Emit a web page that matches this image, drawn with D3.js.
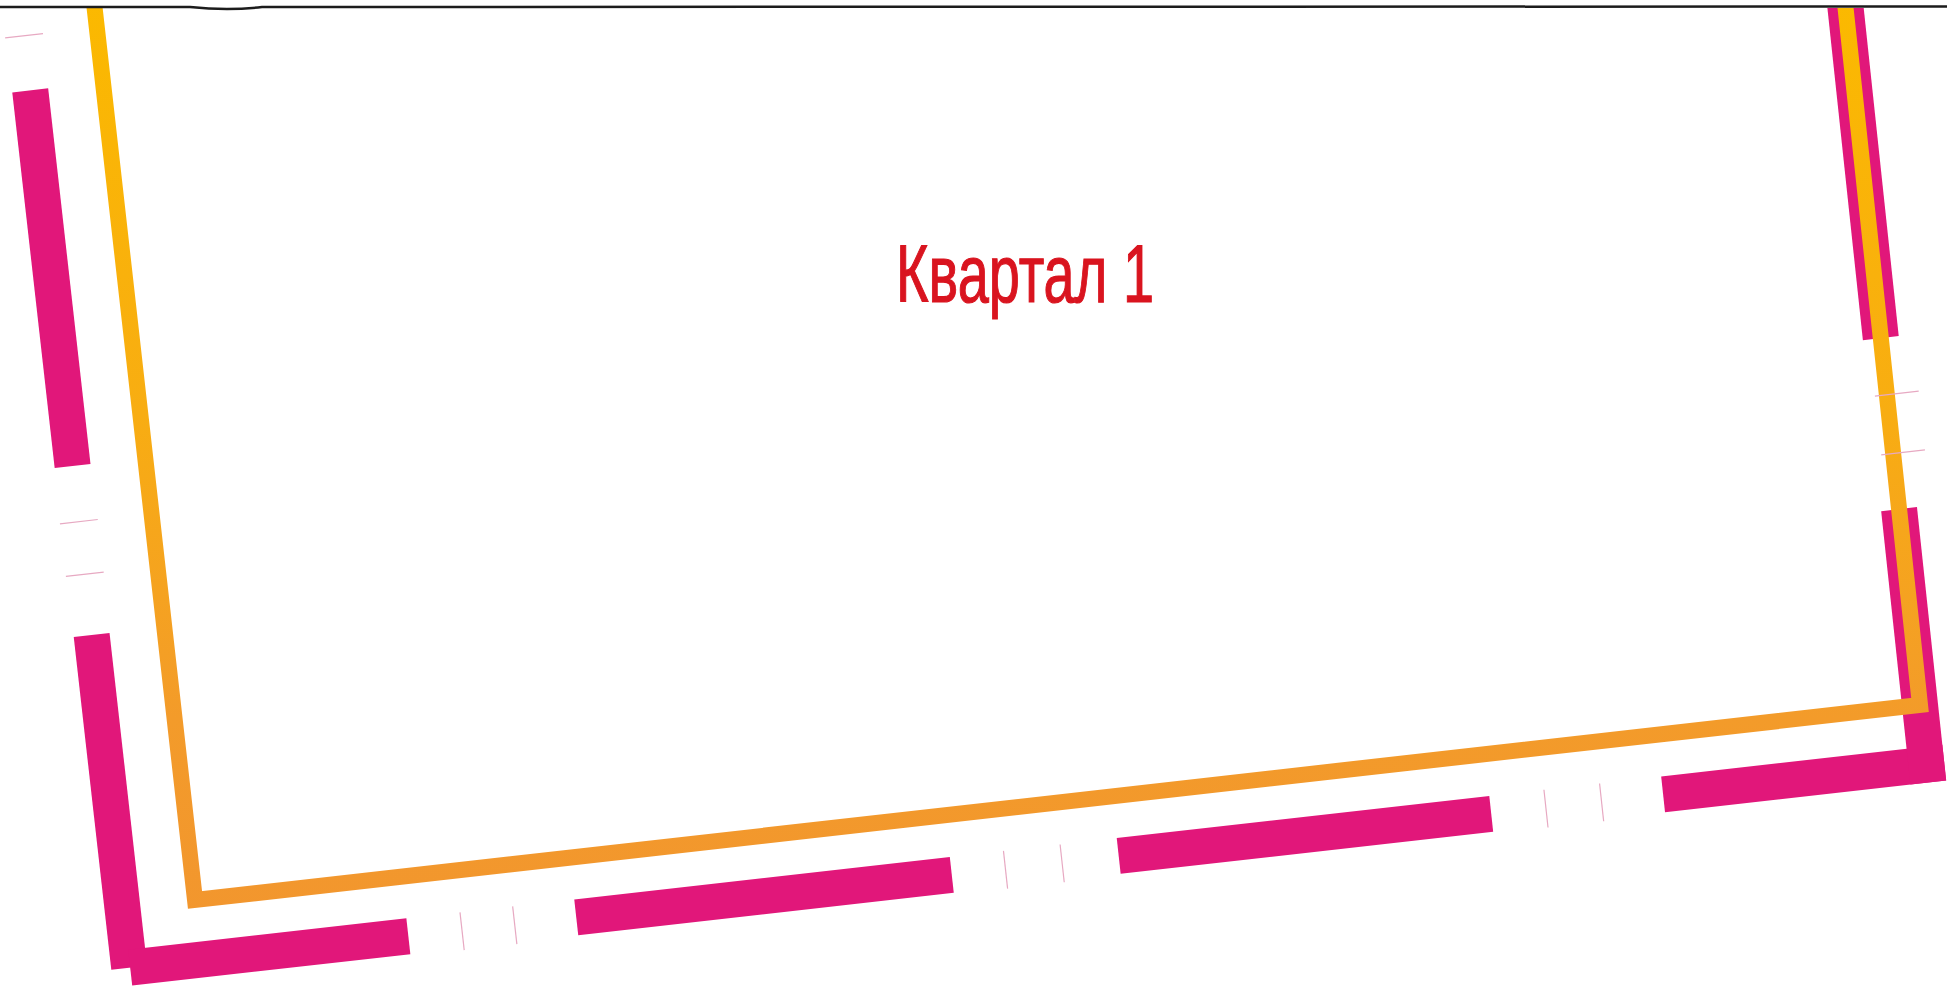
<!DOCTYPE html>
<html>
<head>
<meta charset="utf-8">
<script src="https://cdn.jsdelivr.net/npm/d3@7"></script>
<style>
  html, body { margin: 0; padding: 0; background: #fff; }
  svg { display: block; }
</style>
</head>
<body>
<svg id="slide" width="1947" height="992"></svg>
<script>
// slide title
const titleText = 'Квартал 1';
// pink bars along the left edge (distance up from the bottom line)
const leftBars = [[445, 823], [-60, 275]];
// pink bars along the bottom edge (distance from the left line)
const bottomBars = [[-72, 208], [377, 755], [923, 1298], [1471, 1754]];
// pink bars along the right edge
const rightBars = [[369, 1100], [-78, 197]];
// thin cut marks in the gaps
const leftMarks = [878, 389, 336];
const bottomMarks = [262, 315, 809, 866, 1353, 1409];
const rightMarks = [312, 253];

(function() {
  const svg = d3.select('#slide');
  const W = 1947, H = 992;

  // corners of the slanted orange frame on the page
  const BL = [195, 900], BR = [1920, 705], TL = [93.7, 0], TR = [1823.8, -195.5];
  const sScale = d3.scaleLinear().domain([0, 1736]).range([0, 1]);
  const tScale = d3.scaleLinear().domain([0, 905.7]).range([0, 1]);

  function proj(u, v) {
    const s = sScale(u), t = tScale(v);
    return [
      (1 - s) * (1 - t) * BL[0] + s * (1 - t) * BR[0] + (1 - s) * t * TL[0] + s * t * TR[0],
      (1 - s) * (1 - t) * BL[1] + s * (1 - t) * BR[1] + (1 - s) * t * TL[1] + s * t * TR[1]
    ];
  }
  function quad(u0, u1, v0, v1) {
    return [proj(u0, v0), proj(u1, v0), proj(u1, v1), proj(u0, v1)];
  }
  const poly = d3.line().curve(d3.curveLinearClosed);
  const line = d3.line();

  const defs = svg.append('defs');
  defs.append('clipPath').attr('id', 'page').append('rect')
    .attr('x', 0).attr('y', 8).attr('width', W).attr('height', H - 8);
  const grad = defs.append('linearGradient').attr('id', 'orangeGrad')
    .attr('gradientUnits', 'userSpaceOnUse')
    .attr('x1', 0).attr('y1', 0).attr('x2', 0).attr('y2', 920);
  grad.append('stop').attr('offset', 0).attr('stop-color', '#fbb900');
  grad.append('stop').attr('offset', 0.45).attr('stop-color', '#f8ad12');
  grad.append('stop').attr('offset', 0.78).attr('stop-color', '#f39b2a');
  grad.append('stop').attr('offset', 1).attr('stop-color', '#f2962e');

  const g = svg.append('g').attr('clip-path', 'url(#page)');
  const pink = '#e1177a';

  // pink bars
  const pinkQuads = []
    .concat(leftBars.map(function(d) { return quad(-91, -55, d[0], d[1]); }))
    .concat(bottomBars.map(function(d) { return quad(d[0], d[1], -78, -42); }))
    .concat(rightBars.map(function(d) { return quad(1718, 1754, d[0], d[1]); }));
  g.selectAll('path.pink').data(pinkQuads).enter().append('path')
    .attr('class', 'pink')
    .attr('d', poly)
    .attr('fill', pink);

  // orange frame
  g.append('path')
    .attr('d', line([proj(0, 1100), proj(0, 0), proj(1736, 0), proj(1736, 1100)]))
    .attr('fill', 'none')
    .attr('stroke', 'url(#orangeGrad)')
    .attr('stroke-width', 16)
    .attr('stroke-linejoin', 'miter');

  // faint cut marks
  const marks = []
    .concat(leftMarks.map(function(v) { return [proj(-92, v), proj(-54, v)]; }))
    .concat(bottomMarks.map(function(u) { return [proj(u, -80), proj(u, -42)]; }))
    .concat(rightMarks.map(function(v) { return [proj(1724, v), proj(1768, v)]; }));
  g.selectAll('path.mark').data(marks).enter().append('path')
    .attr('class', 'mark')
    .attr('d', line)
    .attr('fill', 'none')
    .attr('stroke', '#e7a9c2')
    .attr('stroke-width', 1.2);

  // black line along the top of the scan
  svg.append('path')
    .attr('d', 'M0,7 L190,7 Q228,11 262,7 L' + W + ',6.5')
    .attr('fill', 'none')
    .attr('stroke', '#1c1c1c')
    .attr('stroke-width', 2.5);

  svg.append('text')
    .attr('x', 896)
    .attr('y', 302)
    .attr('textLength', 258)
    .attr('lengthAdjust', 'spacingAndGlyphs')
    .style('font-family', '"Liberation Sans Narrow", "Arial Narrow", "Liberation Sans", Arial, sans-serif')
    .style('font-size', '82px')
    .attr('fill', '#d9141f')
    .attr('stroke', '#d9141f')
    .attr('stroke-width', 1.2)
    .text(titleText);
}());
</script>
</body>
</html>
